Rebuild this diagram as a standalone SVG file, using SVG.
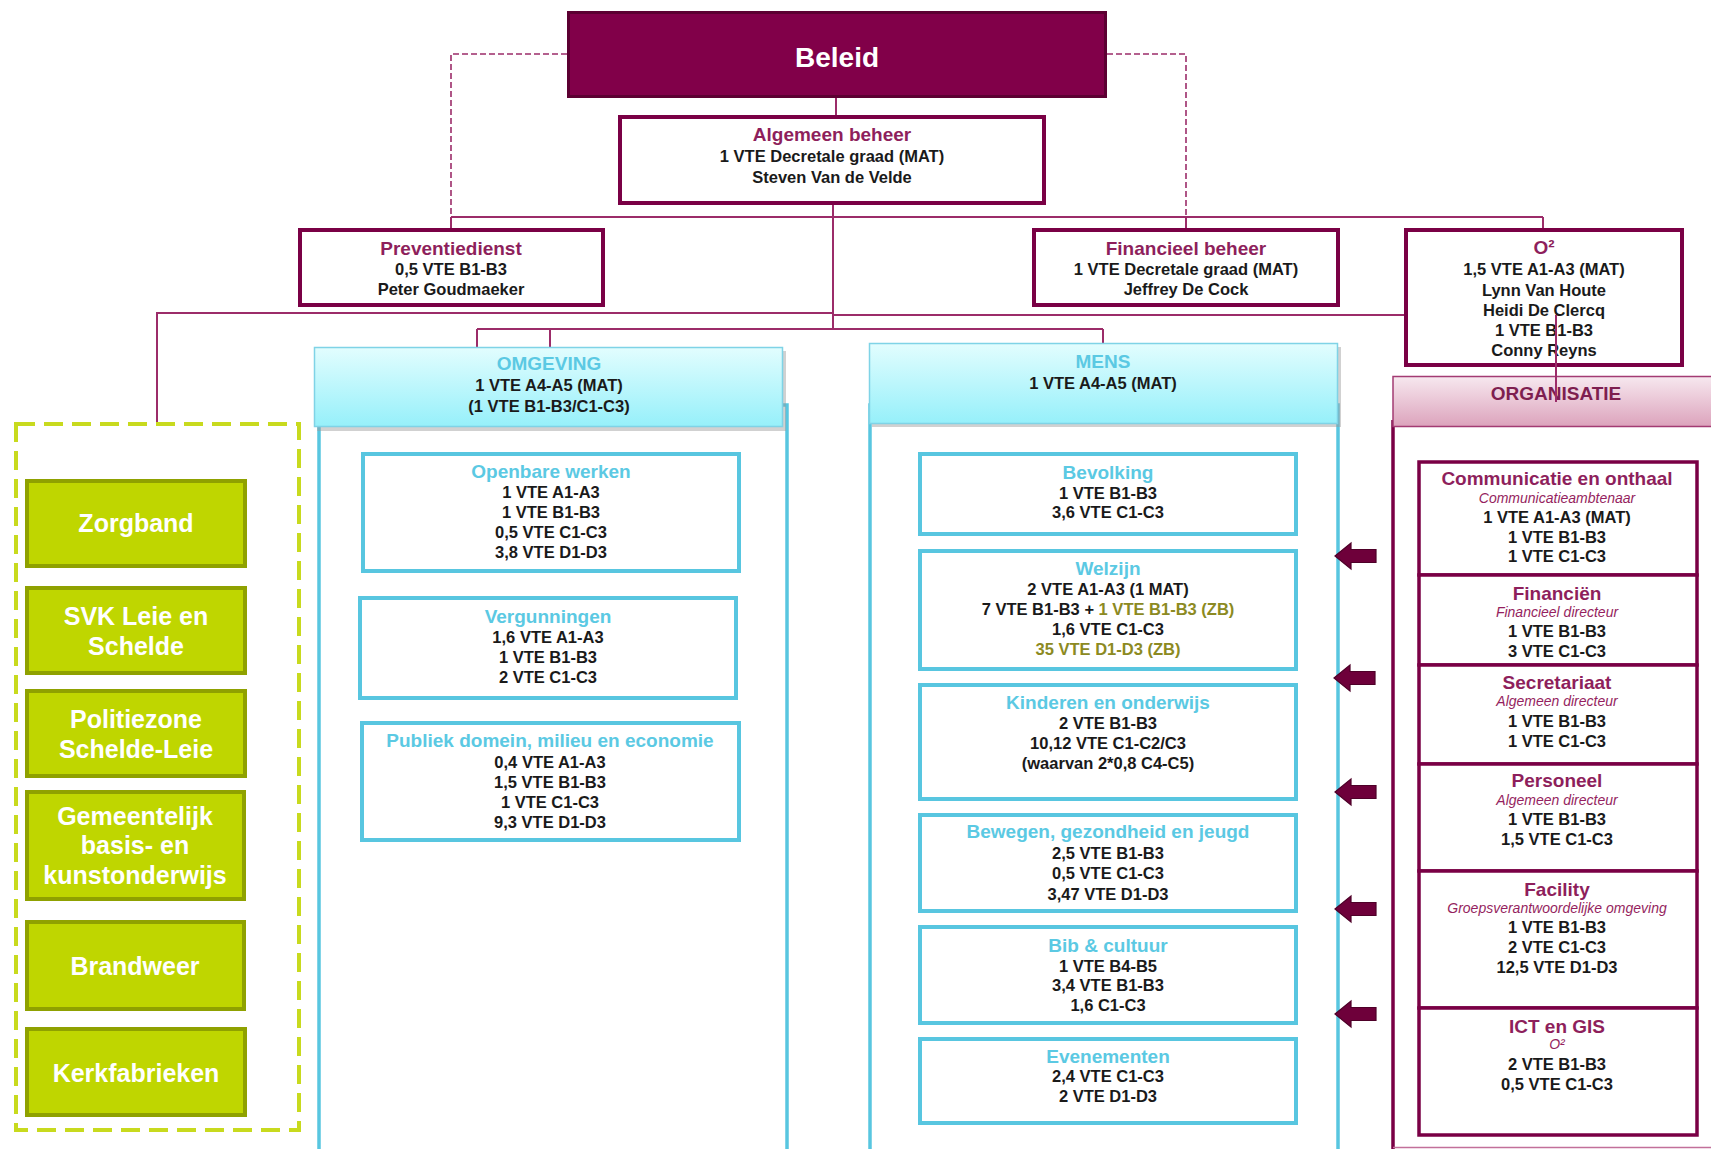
<svg xmlns="http://www.w3.org/2000/svg" width="1711" height="1149" viewBox="0 0 1711 1149">
<defs>
<linearGradient id="cyanGrad" x1="0" y1="0" x2="0" y2="1">
<stop offset="0" stop-color="#E2FDFE"/>
<stop offset="1" stop-color="#96F0FA"/>
</linearGradient>
<linearGradient id="pinkGrad" x1="0" y1="0" x2="0" y2="1">
<stop offset="0" stop-color="#F7E8EF"/>
<stop offset="1" stop-color="#DCA3BC"/>
</linearGradient>
<path id="arrow" d="M0,0 L16,-13 L16,-6.5 L41,-6.5 L41,6.5 L16,6.5 L16,13 Z"/>
</defs>
<style>
text { font-family: "Liberation Sans", Arial, sans-serif; font-weight: bold; text-anchor: middle; }
.tm { fill: #8E1F5C; font-size: 19px; }
.tc { fill: #5BC9E3; font-size: 19px; }
.b { fill: #1A1A1A; font-size: 16.5px; }
.sub { fill: #951F60; font-size: 14px; font-style: italic; font-weight: normal; }
.zb { fill: #8C8A22; }
.gt { fill: #FFFFFF; font-size: 25px; }
.mbox { fill: #FFFFFF; stroke: #7A0045; stroke-width: 4; }
.obox { fill: #FFFFFF; stroke: #7A0045; stroke-width: 3.5; }
.cbox { fill: #FFFFFF; stroke: #58C6E0; stroke-width: 4; }
.gbox { fill: #BFD600; stroke: #8FA100; stroke-width: 4; }
.hdr { fill: url(#cyanGrad); stroke: #7FD3E6; stroke-width: 1.5; }
.body { fill: #FFFFFF; stroke: #58C6E0; stroke-width: 3.5; }
.shadow { fill: #9A9A9A; opacity: 0.45; }
.ln { fill: none; stroke: #9C2C69; stroke-width: 2; }
.dash { fill: none; stroke: #9C2C69; stroke-width: 1.6; stroke-dasharray: 6 3; }
.arr { fill: #6E003A; stroke: #4E0028; stroke-width: 1.2; }
</style>

<!-- containers behind -->
<g id="omgeving-body"><rect class="body" x="319" y="405" width="468" height="750"/></g>
<g id="mens-body"><rect class="body" x="870" y="405" width="468" height="750"/></g>
<g id="organisatie-body">
<line x1="1393" y1="420" x2="1393" y2="1149" stroke="#7A0045" stroke-width="3.5"/>
<line x1="1393" y1="1147.5" x2="1711" y2="1147.5" stroke="#C2709A" stroke-width="1.5"/>
</g>

<!-- connectors -->
<g id="connectors">
<polyline class="dash" points="567,54 451,54 451,217"/>
<polyline class="dash" points="1107,54 1186,54 1186,217"/>
<line class="ln" x1="836" y1="98" x2="836" y2="115"/>
<line class="ln" x1="451" y1="217" x2="1543" y2="217"/>
<line class="ln" x1="451" y1="217" x2="451" y2="228"/>
<line class="ln" x1="1186" y1="217" x2="1186" y2="228"/>
<line class="ln" x1="1543" y1="217" x2="1543" y2="228"/>
<line class="ln" x1="833" y1="204" x2="833" y2="329"/>
<polyline class="ln" points="157,423 157,313 833,313"/>
<line class="ln" x1="833" y1="315" x2="1556" y2="315"/>
<line class="ln" x1="477" y1="329" x2="1103" y2="329"/>
<line class="ln" x1="477" y1="329" x2="477" y2="347"/>
<line class="ln" x1="550" y1="329" x2="550" y2="347"/>
<line class="ln" x1="1103" y1="329" x2="1103" y2="343"/>
</g>

<g id="beleid">
<rect x="568.5" y="12.5" width="537" height="84" fill="#810049" stroke="#5C0032" stroke-width="3"/>
<text x="837" y="67" class="gt" style="font-size:28px">Beleid</text>
</g>

<g id="algemeen-beheer">
<rect class="mbox" x="620" y="117" width="424" height="86"/>
<text x="832" y="141" class="tm">Algemeen beheer</text>
<text x="832" y="162" class="b">1 VTE Decretale graad (MAT)</text>
<text x="832" y="183" class="b">Steven Van de Velde</text>
</g>

<g id="preventiedienst">
<rect class="mbox" x="300" y="230" width="303" height="75"/>
<text x="451" y="255" class="tm">Preventiedienst</text>
<text x="451" y="275" class="b">0,5 VTE B1-B3</text>
<text x="451" y="295" class="b">Peter Goudmaeker</text>
</g>

<g id="financieel-beheer">
<rect class="mbox" x="1034" y="230" width="304" height="75"/>
<text x="1186" y="255" class="tm">Financieel beheer</text>
<text x="1186" y="275" class="b">1 VTE Decretale graad (MAT)</text>
<text x="1186" y="295" class="b">Jeffrey De Cock</text>
</g>

<g id="o2">
<rect class="mbox" x="1406" y="230" width="276" height="135"/>
<text x="1544" y="254" class="tm">O²</text>
<text x="1544" y="275" class="b">1,5 VTE A1-A3 (MAT)</text>
<text x="1544" y="295.5" class="b">Lynn Van Houte</text>
<text x="1544" y="316" class="b">Heidi De Clercq</text>
<text x="1544" y="336" class="b">1 VTE B1-B3</text>
<text x="1544" y="356" class="b">Conny Reyns</text>
</g>
<line class="ln" x1="1556" y1="315" x2="1556" y2="402"/>

<g id="organisatie-header">
<rect x="1393" y="376.5" width="320" height="50" fill="url(#pinkGrad)" stroke="#A33B73" stroke-width="1.5"/>
<text x="1556" y="400" style="font-size:19px;fill:#7E1E50">ORGANISATIE</text>
</g>
<line class="ln" x1="1556" y1="376" x2="1556" y2="402"/>

<g id="omgeving-header">
<rect class="shadow" x="317" y="351" width="469" height="80"/>
<rect class="hdr" x="314.5" y="347.5" width="468" height="79"/>
<text x="549" y="370" class="tc">OMGEVING</text>
<text x="549" y="391" class="b">1 VTE A4-A5 (MAT)</text>
<text x="549" y="412" class="b">(1 VTE B1-B3/C1-C3)</text>
</g>

<g id="mens-header">
<rect class="shadow" x="872" y="347" width="469" height="80"/>
<rect class="hdr" x="869.5" y="343.5" width="468" height="80"/>
<text x="1103" y="368" class="tc">MENS</text>
<text x="1103" y="389" class="b">1 VTE A4-A5 (MAT)</text>
</g>

<g id="verzelfstandigd">
<rect x="16" y="424" width="283" height="706" fill="none" stroke="#C8DA1E" stroke-width="4" stroke-dasharray="19 9"/>
</g>

<g id="zorgband">
<rect class="gbox" x="27" y="481" width="218" height="85"/>
<text x="136" y="532" class="gt">Zorgband</text>
</g>
<g id="svk">
<rect class="gbox" x="27" y="588" width="218" height="85"/>
<text x="136" y="625" class="gt">SVK Leie en</text>
<text x="136" y="655" class="gt">Schelde</text>
</g>
<g id="politiezone">
<rect class="gbox" x="27" y="691" width="218" height="85"/>
<text x="136" y="728" class="gt">Politiezone</text>
<text x="136" y="758" class="gt">Schelde-Leie</text>
</g>
<g id="gemeentelijk-onderwijs">
<rect class="gbox" x="27" y="792" width="217" height="107"/>
<text x="135" y="825" class="gt">Gemeentelijk</text>
<text x="135" y="854" class="gt">basis- en</text>
<text x="135" y="884" class="gt">kunstonderwijs</text>
</g>
<g id="brandweer">
<rect class="gbox" x="27" y="922" width="217" height="87"/>
<text x="135" y="975" class="gt">Brandweer</text>
</g>
<g id="kerkfabrieken">
<rect class="gbox" x="27" y="1029" width="218" height="86"/>
<text x="136" y="1082" class="gt">Kerkfabrieken</text>
</g>

<g id="openbare-werken">
<rect class="cbox" x="363" y="454" width="376" height="117"/>
<text x="551" y="478" class="tc">Openbare werken</text>
<text x="551" y="498" class="b">1 VTE A1-A3</text>
<text x="551" y="518" class="b">1 VTE B1-B3</text>
<text x="551" y="538" class="b">0,5 VTE C1-C3</text>
<text x="551" y="558" class="b">3,8 VTE D1-D3</text>
</g>
<g id="vergunningen">
<rect class="cbox" x="360" y="598" width="376" height="100"/>
<text x="548" y="623" class="tc">Vergunningen</text>
<text x="548" y="643" class="b">1,6 VTE A1-A3</text>
<text x="548" y="663" class="b">1 VTE B1-B3</text>
<text x="548" y="683" class="b">2 VTE C1-C3</text>
</g>
<g id="publiek-domein">
<rect class="cbox" x="362" y="723" width="377" height="117"/>
<text x="550" y="747" class="tc">Publiek domein, milieu en economie</text>
<text x="550" y="768" class="b">0,4 VTE A1-A3</text>
<text x="550" y="788" class="b">1,5 VTE B1-B3</text>
<text x="550" y="808" class="b">1 VTE C1-C3</text>
<text x="550" y="828" class="b">9,3 VTE D1-D3</text>
</g>

<g id="bevolking">
<rect class="cbox" x="920" y="454" width="376" height="80"/>
<text x="1108" y="479" class="tc">Bevolking</text>
<text x="1108" y="499" class="b">1 VTE B1-B3</text>
<text x="1108" y="518" class="b">3,6 VTE C1-C3</text>
</g>
<g id="welzijn">
<rect class="cbox" x="920" y="551" width="376" height="118"/>
<text x="1108" y="575" class="tc">Welzijn</text>
<text x="1108" y="595" class="b">2 VTE A1-A3 (1 MAT)</text>
<text x="1108" y="615" class="b">7 VTE B1-B3 + <tspan class="zb">1 VTE B1-B3 (ZB)</tspan></text>
<text x="1108" y="635" class="b">1,6 VTE C1-C3</text>
<text x="1108" y="655" class="b zb">35 VTE D1-D3 (ZB)</text>
</g>
<g id="kinderen-onderwijs">
<rect class="cbox" x="920" y="685" width="376" height="114"/>
<text x="1108" y="709" class="tc">Kinderen en onderwijs</text>
<text x="1108" y="729" class="b">2 VTE B1-B3</text>
<text x="1108" y="749" class="b">10,12 VTE C1-C2/C3</text>
<text x="1108" y="769" class="b">(waarvan 2*0,8 C4-C5)</text>
</g>
<g id="bewegen">
<rect class="cbox" x="920" y="815" width="376" height="96"/>
<text x="1108" y="838" class="tc">Bewegen, gezondheid en jeugd</text>
<text x="1108" y="859" class="b">2,5 VTE B1-B3</text>
<text x="1108" y="879" class="b">0,5 VTE C1-C3</text>
<text x="1108" y="900" class="b">3,47 VTE D1-D3</text>
</g>
<g id="bib-cultuur">
<rect class="cbox" x="920" y="927" width="376" height="96"/>
<text x="1108" y="952" class="tc">Bib &amp; cultuur</text>
<text x="1108" y="972" class="b">1 VTE B4-B5</text>
<text x="1108" y="991" class="b">3,4 VTE B1-B3</text>
<text x="1108" y="1011" class="b">1,6 C1-C3</text>
</g>
<g id="evenementen">
<rect class="cbox" x="920" y="1039" width="376" height="84"/>
<text x="1108" y="1063" class="tc">Evenementen</text>
<text x="1108" y="1082" class="b">2,4 VTE C1-C3</text>
<text x="1108" y="1102" class="b">2 VTE D1-D3</text>
</g>

<g id="arrows">
<use href="#arrow" class="arr" x="1335" y="556"/>
<use href="#arrow" class="arr" x="1334" y="678"/>
<use href="#arrow" class="arr" x="1335" y="792"/>
<use href="#arrow" class="arr" x="1335" y="909"/>
<use href="#arrow" class="arr" x="1335" y="1014"/>
</g>

<g id="communicatie">
<rect class="obox" x="1419" y="462" width="278" height="113"/>
<text x="1557" y="485" class="tm">Communicatie en onthaal</text>
<text x="1557" y="503" class="sub">Communicatieambtenaar</text>
<text x="1557" y="523" class="b">1 VTE A1-A3 (MAT)</text>
<text x="1557" y="543" class="b">1 VTE B1-B3</text>
<text x="1557" y="562" class="b">1 VTE C1-C3</text>
</g>
<g id="financien">
<rect class="obox" x="1419" y="575" width="278" height="90"/>
<text x="1557" y="600" class="tm">Financiën</text>
<text x="1557" y="617" class="sub">Financieel directeur</text>
<text x="1557" y="637" class="b">1 VTE B1-B3</text>
<text x="1557" y="657" class="b">3 VTE C1-C3</text>
</g>
<g id="secretariaat">
<rect class="obox" x="1419" y="665" width="278" height="99"/>
<text x="1557" y="689" class="tm">Secretariaat</text>
<text x="1557" y="706" class="sub">Algemeen directeur</text>
<text x="1557" y="727" class="b">1 VTE B1-B3</text>
<text x="1557" y="747" class="b">1 VTE C1-C3</text>
</g>
<g id="personeel">
<rect class="obox" x="1419" y="764" width="278" height="107"/>
<text x="1557" y="787" class="tm">Personeel</text>
<text x="1557" y="805" class="sub">Algemeen directeur</text>
<text x="1557" y="825" class="b">1 VTE B1-B3</text>
<text x="1557" y="845" class="b">1,5 VTE C1-C3</text>
</g>
<g id="facility">
<rect class="obox" x="1419" y="871" width="278" height="137"/>
<text x="1557" y="896" class="tm">Facility</text>
<text x="1557" y="913" class="sub">Groepsverantwoordelijke omgeving</text>
<text x="1557" y="933" class="b">1 VTE B1-B3</text>
<text x="1557" y="953" class="b">2 VTE C1-C3</text>
<text x="1557" y="973" class="b">12,5 VTE D1-D3</text>
</g>
<g id="ict-gis">
<rect class="obox" x="1419" y="1008" width="278" height="127"/>
<text x="1557" y="1033" class="tm">ICT en GIS</text>
<text x="1557" y="1049" class="sub">O²</text>
<text x="1557" y="1070" class="b">2 VTE B1-B3</text>
<text x="1557" y="1090" class="b">0,5 VTE C1-C3</text>
</g>
</svg>
